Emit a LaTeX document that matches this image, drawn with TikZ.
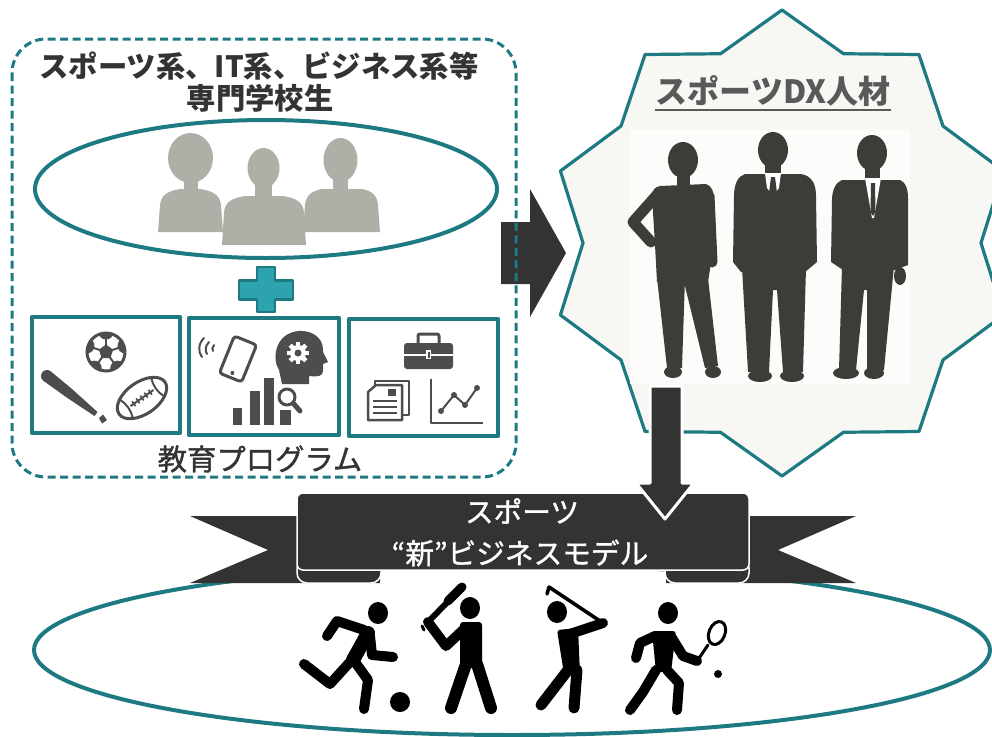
\documentclass[tikz,border=0pt]{standalone}
\usepackage{fontspec}
\setmainfont{Noto Sans CJK JP}
\newfontfamily\jpmid{Noto Sans CJK JP}[FakeBold=1.2]
\usetikzlibrary{shapes.geometric}
\newdimen\pxu
\pxu=0.75pt
\definecolor{tealline}{RGB}{30,122,130}
\definecolor{tealfill}{RGB}{45,163,176}
\definecolor{inkdark}{RGB}{51,51,51}
\definecolor{suitgray}{RGB}{60,61,56}
\definecolor{bustgray}{RGB}{176,175,167}
\definecolor{icongray}{RGB}{77,77,77}
\definecolor{starfill}{RGB}{247,248,244}
\definecolor{photobg}{RGB}{252,252,251}
\definecolor{labelgray}{RGB}{89,89,89}
\tikzset{
  progbox/.style={draw=tealline, line width=4.5\pxu, inner sep=0pt},
  headtext/.style={text=inkdark, inner sep=0pt, font=\fontsize{22}{26}\selectfont\bfseries},
  progtext/.style={text=inkdark, inner sep=0pt, font=\jpmid\fontsize{22}{26}\selectfont},
  bannertext/.style={text=white, inner sep=0pt, font=\jpmid\fontsize{21.5}{26}\selectfont},
  limb/.style={line width=10\pxu, line cap=round, line join=round},
  ribbon/.style={fill=inkdark, draw=white, line width=1.5\pxu},
}
\begin{document}
\begin{tikzpicture}[x=0.75pt, y=-0.75pt, line join=round]
\useasboundingbox (0,0) rectangle (992,736);
\clip (0,0) rectangle (992,736);

% ---------- arrow from the school group to the DX talent ----------
\coordinate (rarrow) at (501,253);
\fill[inkdark] (rarrow) ++(0,-31) -- (530,222) -- (530,189) -- (566,253) -- (530,317) -- (530,284) -- (501,284) -- cycle;

% ---------- dashed frame of the school group ----------
\draw[tealline, line width=3\pxu, dash pattern=on 8\pxu off 4.5\pxu, rounded corners=34\pxu]
  (12,39) rectangle (516,477);
\node[headtext] (title1) at (259,66) {スポーツ系、IT系、ビジネス系等};
\node[headtext] (title2) at (260,98) {専門学校生};

% students
\node[draw=tealline, line width=4\pxu, ellipse, minimum width=462\pxu, minimum height=138\pxu, inner sep=0pt] (students) at (266,189) {};
\begin{scope}[bustgray]
  % left
  \fill (190.5,158) ellipse [x radius=22.5, y radius=25];
  \fill (184,176) rectangle (198,192);
  \fill (158,232) -- (160,205) .. controls (161,195) and (168,191) .. (180,189) -- (200,189) .. controls (214,191) and (220,196) .. (221,205) -- (223,232) -- cycle;
  % right
  \fill (340.5,160) ellipse [x radius=17, y radius=22];
  \fill (333,176) rectangle (348,192);
  \fill (303,232) -- (305,205) .. controls (306,195) and (312,191) .. (322,189) -- (362,189) .. controls (373,191) and (377,196) .. (378,205) -- (380,232) -- cycle;
  % middle
  \fill (263.5,168) ellipse [x radius=16, y radius=20];
  \fill (255,183) rectangle (272,198);
  \fill (222,245) -- (224,212) .. controls (225,202) and (232,198) .. (245,196) -- (283,196) .. controls (297,198) and (303,203) .. (304,212) -- (306,245) -- cycle;
\end{scope}

% plus
\coordinate (plus) at (266,290);
\filldraw[fill=tealfill, draw=tealline, line width=2.5\pxu]
  (257,267) -- (275,267) -- (275,280.5) -- (293,280.5) -- (293,299.5) -- (275,299.5) -- (275,312)
  -- (257,312) -- (257,299.5) -- (239,299.5) -- (239,280.5) -- (257,280.5) -- cycle;

% three programme boxes
\node[progbox, minimum width=148\pxu, minimum height=116\pxu] (box1) at (106,375) {};
\node[progbox, minimum width=150\pxu, minimum height=117\pxu] (box2) at (264,376.5) {};
\node[progbox, minimum width=149\pxu, minimum height=117\pxu] (box3) at (423.5,377.5) {};

% box 1: sports
\begin{scope}[icongray]
  \begin{scope}
    \clip (106,352) circle [radius=19];
    \foreach \a in {270,198,126,54,342} \fill (106,352) ++(\a:20) circle [radius=7.5];
  \end{scope}
  \draw[line width=3\pxu] (106,352) circle [radius=19];
  \foreach \a in {270,198,126,54,342} \draw[line width=2\pxu] (106,352) -- ++(\a:17);
  \node[regular polygon, regular polygon sides=5, fill=icongray, minimum size=15\pxu, inner sep=0pt] (pent) at (106,352) {};
  \fill (47,376) circle [radius=6];
  \fill (50.7,371.3) -- (72,389) -- (97.5,412) -- (94.5,416) -- (66,397) -- (43.3,380.7) -- cycle;
  \fill (99,418) -- (103,414.5) -- (107,420) -- (102,423.5) -- cycle;
  \begin{scope}[shift={(142,398)}, rotate=35]
    \draw[line width=3\pxu] (0,0) ellipse [x radius=28, y radius=16];
    \draw[line width=2\pxu] (-14,0) -- (14,0);
    \foreach \u in {-10,-5,0,5,10} \draw[line width=1.6\pxu] (\u,-3) -- (\u,3);
    \draw[line width=2\pxu] (-19,-11) .. controls (-16,-4) and (-16,4) .. (-19,11);
    \draw[line width=2\pxu] (19,-11) .. controls (16,-4) and (16,4) .. (19,11);
  \end{scope}
\end{scope}

% box 2: IT
\begin{scope}[icongray]
  \begin{scope}[shift={(238,359)}, rotate=-22]
    \draw[line width=3\pxu, rounded corners=3\pxu] (-12,-20) rectangle (12,20);
    \fill (0,15) circle [radius=2];
  \end{scope}
  \draw[line width=2\pxu, line cap=round] (204,338) .. controls (198,344) and (198,352) .. (202,357);
  \draw[line width=2\pxu, line cap=round] (209,342) .. controls (205,346) and (205,351) .. (207,354);
  \draw[line width=2\pxu, line cap=round] (214,345) .. controls (212,347) and (212,350) .. (213,351);
  \fill (282,384) -- (279,370) .. controls (272,360) and (274,334) .. (298,331) .. controls (317,330) and (324,342) .. (323,352)
    -- (328,362) -- (323,364) -- (323,371) .. controls (323,376) and (318,377) .. (309,376) -- (309,384) -- cycle;
  \fill[white] (298,353) circle [radius=8];
  \foreach \a in {0,45,...,315} \fill[white, shift={(298,353)}, rotate=\a] (-2.2,-11) rectangle (2.2,-6);
  \fill (298,353) circle [radius=3.5];
  \fill (233,408) rectangle (242,425);
  \fill (250,391) rectangle (260,425);
  \fill (264,378) rectangle (274,425);
  \fill (280,410) rectangle (291,425);
  \draw[line width=5\pxu, line cap=round] (293,403) -- (300,411);
  \filldraw[fill=white, draw=icongray, line width=3\pxu] (287,397) circle [radius=8];
\end{scope}

% box 3: business
\begin{scope}[icongray]
  \draw[line width=3\pxu, rounded corners=2\pxu] (418,346) -- (418,334) -- (439,334) -- (439,346);
  \fill[rounded corners=3\pxu] (404,343) rectangle (453,369);
  \draw[white, line width=1.5\pxu] (404,355) -- (453,355);
  \fill[white] (426,350) rectangle (431,359);
  \fill (427.5,351.5) rectangle (429.5,357.5);
  \draw[line width=2.5\pxu] (375,381) rectangle (409,415);
  \filldraw[fill=white, draw=icongray, line width=2.5\pxu] (368,392) -- (376,385) -- (402,385) -- (402,420) -- (368,420) -- cycle;
  \fill (388,389) rectangle (396,396);
  \foreach \yy in {401,407,413} \draw[line width=2\pxu] (373,\yy) -- (397,\yy);
  \draw[line width=1.8\pxu] (431,379) -- (431,423) -- (483,423);
  \draw[line width=2\pxu] (441,411) -- (454,395) -- (465,405) -- (477,388);
  \foreach \p in {(441,411),(454,395),(465,405),(477,388)} \fill \p circle [radius=3];
\end{scope}

\node[progtext] (prog) at (260,459) {教育プログラム};

% ---------- DX talent star ----------
\coordinate (starc) at (782,243);
\filldraw[fill=starfill, draw=tealline, line width=3.2\pxu] (782,10)
  \foreach \a in {0,36,...,288} { -- ({782+199*cos(108+\a)},{243-199*sin(108+\a)}) -- ({782+233*cos(126+\a)},{243-233*sin(126+\a)}) }
  -- ({782+199*cos(432)},{243-199*sin(432)}) -- cycle;
\fill[photobg] (630,130) rectangle (910,384);
\node[text=labelgray, inner sep=0pt, font=\fontsize{24}{26}\selectfont\bfseries] (dx) at (773,91) {スポーツDX人材};
\draw[labelgray, line width=2\pxu] ([yshift=-5pt]dx.base west) -- ([yshift=-5pt]dx.base east);

\begin{scope}[suitgray]
  % woman
  \fill (683,160) ellipse [x radius=15, y radius=18];
  \fill (677,172) rectangle (690,190);
  \fill (660,186) -- (706,184) .. controls (712,186) and (714,192) .. (714,200) -- (713,250) -- (708,282) -- (657,282)
    -- (655,245) -- (652,196) .. controls (652,190) and (655,187) .. (660,186) -- cycle;
  \draw[line width=11\pxu, line cap=round, line join=round] (657,195) -- (633,222) -- (651,242);
  \draw[line width=11\pxu, line cap=round] (709,196) -- (712,262);
  \fill (657,278) -- (685,278) -- (682,368) -- (667,368) -- cycle;
  \fill (683,278) -- (708,278) -- (718,366) -- (705,368) -- cycle;
  \fill (673,372) ellipse [x radius=9, y radius=6];
  \fill (713,372) ellipse [x radius=8, y radius=6];
  % man in the middle
  \fill (773,150) ellipse [x radius=15, y radius=18];
  \fill (765,162) rectangle (781,178);
  \fill (745,174) -- (801,174) .. controls (812,176) and (816,184) .. (816,196) -- (817,262) -- (805,272) -- (741,272)
    -- (733,262) -- (734,196) .. controls (734,184) and (738,176) .. (745,174) -- cycle;
  \fill (742,268) -- (806,268) -- (803,372) -- (783,372) -- (777,290) -- (773,290) -- (769,372) -- (748,372) -- cycle;
  \fill (760,376) ellipse [x radius=12, y radius=6];
  \fill (792,376) ellipse [x radius=12, y radius=6];
  \fill[white] (765,173) -- (781,173) -- (779,188) -- (773,196) -- (767,188) -- cycle;
  \fill (771,177) -- (775,177) -- (777,193) -- (773,198) -- (769,193) -- cycle;
  % man on the right
  \fill (872,153) ellipse [x radius=15, y radius=18];
  \fill (865,165) rectangle (880,182);
  \fill (842,180) -- (900,180) .. controls (906,182) and (908,190) .. (908,198) -- (908,265) -- (895,270) -- (843,270)
    -- (831,262) -- (832,200) .. controls (832,190) and (836,182) .. (842,180) -- cycle;
  \fill (900,276) ellipse [x radius=6, y radius=9];
  \fill[white] (865,178) -- (881,178) -- (874,218) -- (872,218) -- cycle;
  \fill (871,183) -- (875,183) -- (875.5,212) -- (873,216) -- (870.5,212) -- cycle;
  \fill (842,266) -- (894,266) -- (884,370) -- (867,370) -- (867,290) -- (864,290) -- (856,370) -- (839,370) -- cycle;
  \fill (846,373) ellipse [x radius=13, y radius=6];
  \fill (874,373) ellipse [x radius=10, y radius=6];
\end{scope}

% ---------- sports field ----------
\node[draw=tealline, line width=4\pxu, ellipse, minimum width=956\pxu, minimum height=170\pxu, inner sep=0pt] (field) at (512,650) {};

\begin{scope}[black]
  % football player
  \fill (378,613) ellipse [x radius=10, y radius=11];
  \draw[line width=14\pxu, line cap=round] (368,633) -- (353,660);
  \draw[limb] (364,630) -- (337,621) -- (327,636);
  \draw[limb] (370,636) -- (372,655) -- (393,657);
  \draw[limb] (350,662) -- (330,684) -- (304,664);
  \draw[limb] (355,662) -- (368,680) -- (364,709);
  \fill (400,702) circle [radius=10];
  % batter
  \fill (470,608) ellipse [x radius=10, y radius=11];
  \fill[rounded corners=3\pxu] (460,622) rectangle (482,668);
  \draw[limb] (463,630) -- (446,646) -- (428,622);
  \draw[line width=6\pxu, line cap=round] (430,620) -- (462,587);
  \draw[line width=9\pxu, line cap=round] (448,601) -- (462,587);
  \draw[line width=3\pxu, line cap=round] (422,626) -- (424,630);
  \draw[line width=12\pxu, line cap=round] (466,664) -- (451,708);
  \draw[line width=12\pxu, line cap=round] (477,664) -- (491,708);
  % golfer
  \fill (557,612) ellipse [x radius=10, y radius=11];
  \fill[rounded corners=3\pxu] (557,630) -- (578,628) -- (580,674) -- (564,674) -- cycle;
  \draw[limb] (570,634) -- (603,623);
  \draw[line width=3.5\pxu, line cap=round] (603,623) -- (549,587) -- (547,594);
  \draw[line width=11\pxu, line cap=round] (568,670) -- (541,705);
  \draw[line width=11\pxu, line cap=round] (577,670) -- (574,708);
  % tennis player
  \fill (668,613) ellipse [x radius=10, y radius=11];
  \fill[rounded corners=3\pxu] (652,631) -- (676,631) -- (671,672) -- (656,672) -- cycle;
  \draw[limb] (655,636) -- (640,643) -- (636,658);
  \draw[limb] (672,638) -- (683,656) -- (697,661);
  \draw[line width=3\pxu, line cap=round] (697,661) -- (708,645);
  \draw[line width=3\pxu, shift={(717,633)}, rotate=-22] (0,0) ellipse [x radius=8, y radius=12];
  \draw[limb] (656,670) -- (643,692) -- (630,710);
  \draw[limb] (667,670) -- (679,683) -- (677,710);
  \fill (718,674) circle [radius=4];
\end{scope}

% ---------- ribbon banner ----------
\fill[inkdark] (190,516) -- (380,516) -- (380,583) -- (190,583) -- (268,550) -- cycle;
\fill[inkdark] (856,516) -- (666,516) -- (666,583) -- (856,583) -- (778,550) -- cycle;
\filldraw[ribbon, rounded corners=10\pxu] (297,558) rectangle (381,583);
\filldraw[ribbon, rounded corners=10\pxu] (665,558) rectangle (749,583);
\filldraw[ribbon, rounded corners=6\pxu] (297,493) rectangle (749,570);
\node[bannertext] (ban1) at (522,511) {スポーツ};
\node[bannertext] (ban2) at (520,553) {“新”ビジネスモデル};

% ---------- arrow from the DX talent down to the banner ----------
\coordinate (darrow) at (666,386);
\filldraw[fill=inkdark, draw=white, line width=3\pxu]
  (darrow) ++(-16,0) -- (682,386) -- (682,483) -- (694,483) -- (665,519) -- (636,483) -- (650,483) -- cycle;
\end{tikzpicture}
\end{document}
